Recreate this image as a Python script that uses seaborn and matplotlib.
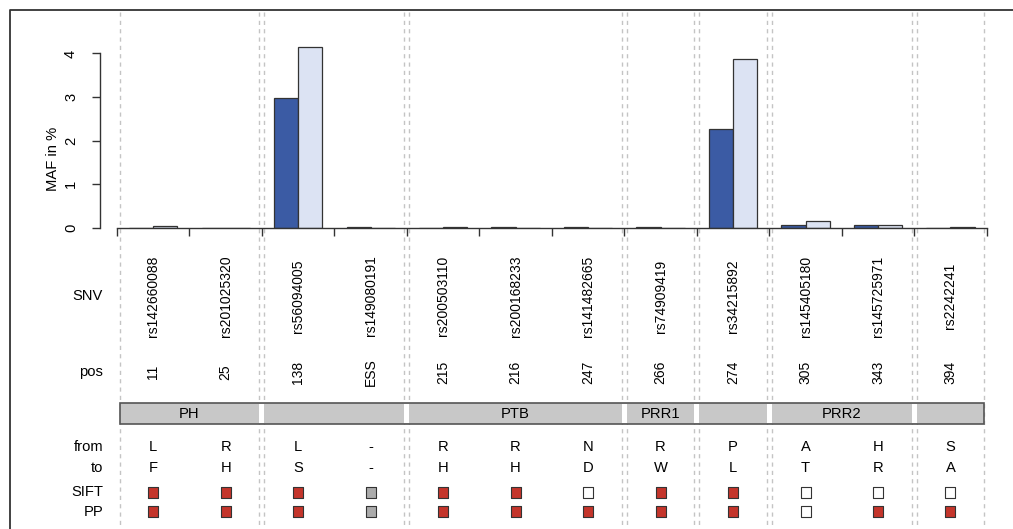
import numpy as np
import pandas as pd
import matplotlib
matplotlib.use("Agg")
import matplotlib.pyplot as plt
from matplotlib.patches import Rectangle
from matplotlib.lines import Line2D
import seaborn as sns

# ---------------- data ----------------
snvs = ["rs142660088", "rs201025320", "rs56094005", "rs149080191", "rs200503110",
        "rs200168233", "rs141482665", "rs74909419", "rs34215892", "rs145405180",
        "rs145725971", "rs2242241"]
positions = ["11", "25", "138", "ESS", "215", "216", "247", "266", "274", "305", "343", "394"]
maf_group1 = [0.0, 0.0, 2.97, 0.03, 0.0, 0.03, 0.03, 0.03, 2.27, 0.07, 0.07, 0.0]
maf_group2 = [0.05, 0.0, 4.15, 0.01, 0.03, 0.01, 0.01, 0.01, 3.88, 0.15, 0.06, 0.03]
groups = ["group1", "group2"]
aa_from = ["L", "R", "L", "-", "R", "R", "N", "R", "P", "A", "H", "S"]
aa_to = ["F", "H", "S", "-", "H", "H", "D", "W", "L", "T", "R", "A"]
sift = ["del", "del", "del", "na", "del", "del", "tol", "del", "del", "tol", "tol", "tol"]
pp = ["del", "del", "del", "na", "del", "del", "del", "del", "del", "tol", "del", "del"]
domain_names = ["PH", "", "PTB", "PRR1", "", "PRR2", ""]
domain_sizes = [2, 2, 3, 1, 1, 2, 1]
yticks = [0, 1, 2, 3, 4]

# ---------------- style ----------------
sns.set_style("white")
plt.rcParams["font.family"] = ["Liberation Sans", "DejaVu Sans"]
plt.rcParams["text.color"] = "black"
plt.rcParams["xtick.color"] = "black"
plt.rcParams["ytick.color"] = "black"
plt.rcParams["axes.labelcolor"] = "black"
FS = 10
FS_LAB = 10.6
dark_blue = "#3B5BA4"
light_blue = "#DCE3F3"
status_col = {"del": "#C4352B", "tol": "#FFFFFF", "na": "#ABABAB"}

W, H = 1013, 529
fig = plt.figure(figsize=(W / 100, H / 100), dpi=100)

def fx(px):
    return px / W

def fy(py):
    return 1 - py / H

x_left_px, x_right_px = 117.0, 986.7
unit = (x_right_px - x_left_px) / len(snvs)
y0_px, ppu = 228.0, 43.63
top_px = 40.0

# overlay axes in "cell" x-units and pixel y
ax2 = fig.add_axes([0, 0, 1, 1], zorder=0)
ax2.set_xlim(-0.5 - x_left_px / unit, len(snvs) - 0.5 + (W - x_right_px) / unit)
ax2.set_ylim(H, 0)
ax2.axis("off")

ax = fig.add_axes([fx(x_left_px), fy(y0_px), fx(x_right_px) - fx(x_left_px),
                   (y0_px - top_px) / H], zorder=1)
ax.patch.set_alpha(0)

df = pd.DataFrame({
    "snv": snvs * 2,
    "group": [groups[0]] * len(snvs) + [groups[1]] * len(snvs),
    "maf": maf_group1 + maf_group2,
})
sns.barplot(data=df, x="snv", y="maf", hue="group", order=snvs, hue_order=groups,
            palette=[dark_blue, light_blue], saturation=1, width=2 / 3, edgecolor="#333333",
            linewidth=0.9, legend=False, ax=ax, errorbar=None)
ax.set_xlim(-0.5, len(snvs) - 0.5)
ax.set_ylim(0, (y0_px - top_px) / ppu)
for s in ["top", "right"]:
    ax.spines[s].set_visible(False)
ax.spines["left"].set_position(("outward", 12))
ax.spines["left"].set_bounds(0, 4)
ax.spines["bottom"].set_bounds(-0.5, len(snvs) - 0.5)
for s in ["left", "bottom"]:
    ax.spines[s].set_color("#333333")
    ax.spines[s].set_linewidth(1.0)
ax.set_xticks(np.arange(-0.5, len(snvs)))
ax.set_xticklabels([])
ax.set_yticks(yticks)
ax.set_yticklabels([str(t) for t in yticks], rotation=90, va="center", fontsize=FS_LAB)
ax.tick_params(axis="both", direction="out", length=6, width=1.0, color="#333333",
               left=True, bottom=True, labelcolor="black")
ax.tick_params(axis="y", pad=10)
ax.set_xlabel("")
ax.set_ylabel("")
fig.text(fx(53), fy(159), "MAF in %", rotation=90, ha="center", va="center", fontsize=FS_LAB)

# figure frame (cropped at right/bottom)
fig.add_artist(Line2D([fx(10), fx(10), 1], [0, fy(10), fy(10)], transform=fig.transFigure,
                      color="#333333", lw=1.3))

# domains
bounds = np.concatenate([[0], np.cumsum(domain_sizes)]) - 0.5
g = 0.035
starts = bounds[:-1] + g
ends = bounds[1:] - g
for xv in np.concatenate([starts, ends]):
    ax2.add_line(Line2D([xv, xv], [12, H], color="#C4C4C4", lw=1.0, ls=(0, (3, 3)), zorder=1))

bar_top, bar_bot = 403, 424
ax2.add_patch(Rectangle((starts[0], bar_top), ends[-1] - starts[0], bar_bot - bar_top,
                        facecolor="#C8C8C8", edgecolor="#555555", lw=1.2, zorder=2))
for e, s in zip(ends[:-1], starts[1:]):
    ax2.add_patch(Rectangle((e, bar_top + 1), s - e, bar_bot - bar_top - 2,
                            facecolor="white", edgecolor="none", zorder=3))
for name, s, e in zip(domain_names, starts, ends):
    if name:
        ax2.text((s + e) / 2, 413.5, name, ha="center", va="center", fontsize=FS_LAB, zorder=4)

# text rows
xs = np.arange(len(snvs))
for i in xs:
    ax2.text(i, 296, snvs[i], rotation=90, ha="center", va="center", fontsize=FS)
    ax2.text(i, 372, positions[i], rotation=90, ha="center", va="center", fontsize=FS)
    ax2.text(i, 447, aa_from[i], ha="center", va="center", fontsize=FS_LAB)
    ax2.text(i, 468, aa_to[i], ha="center", va="center", fontsize=FS_LAB)

row_labels = [("SNV", 296), ("pos", 372), ("from", 447), ("to", 468), ("SIFT", 492.5), ("PP", 511.5)]
for lab, yy in row_labels:
    fig.text(fx(103), fy(yy), lab, ha="right", va="center", fontsize=FS_LAB)

ax2.scatter(xs, [492.5] * len(xs), marker="s", s=52, c=[status_col[v] for v in sift],
            edgecolors="#333333", linewidths=0.8, zorder=4, clip_on=False)
ax2.scatter(xs, [511.5] * len(xs), marker="s", s=52, c=[status_col[v] for v in pp],
            edgecolors="#333333", linewidths=0.8, zorder=4, clip_on=False)

fig.savefig("out.png", dpi=100)
